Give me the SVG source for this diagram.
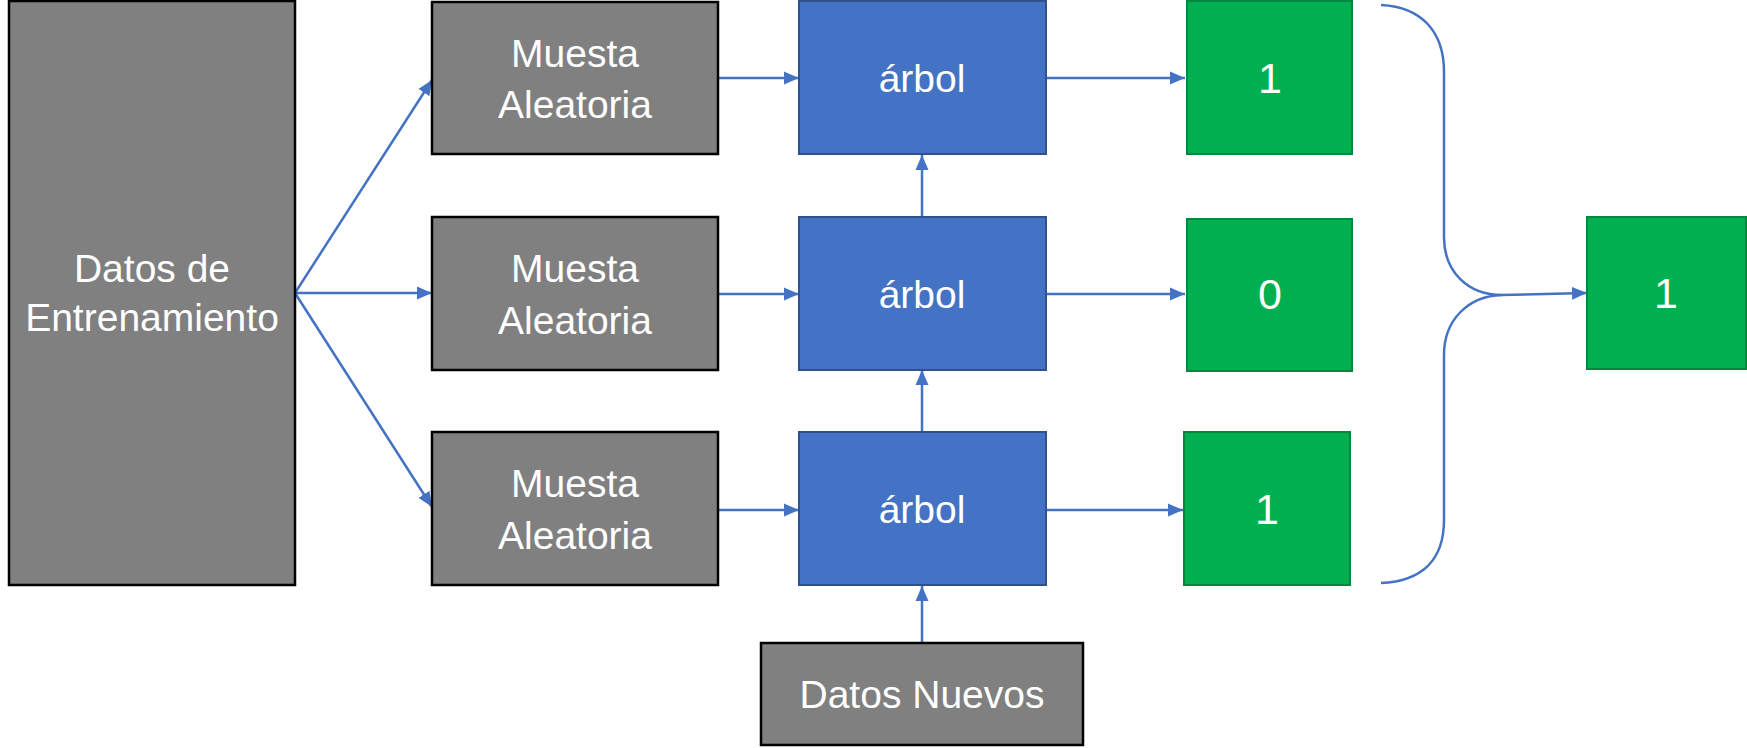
<svg xmlns="http://www.w3.org/2000/svg" width="1747" height="748" viewBox="0 0 1747 748">
<defs>
<style>
.gray{fill:#808080;stroke:#000;stroke-width:2.5}
.blue{fill:#4472C4;stroke:#2F528F;stroke-width:2}
.green{fill:#00B050;stroke:#00883E;stroke-width:2}
.t{fill:#fff;font-family:"Liberation Sans",Arial,sans-serif;font-size:39px;text-anchor:middle}
.d{font-size:43px}
.c{fill:none;stroke:#4472C4;stroke-width:2.5}
.a{marker-end:url(#ah)}
</style>
<marker id="ah" markerUnits="userSpaceOnUse" markerWidth="15" markerHeight="15" viewBox="0 0 15 15" refX="15" refY="7.5" orient="auto">
<path d="M0,1 L15,7.5 L0,14 Z" fill="#4472C4"/>
</marker>
</defs>
<rect width="1747" height="748" fill="#fff"/>
<g id="connectors">
<line class="c a" x1="295" y1="293" x2="432" y2="80"/>
<line class="c a" x1="295" y1="293" x2="432" y2="293"/>
<line class="c a" x1="295" y1="293" x2="432" y2="507"/>
<line class="c a" x1="718" y1="78" x2="799" y2="78"/>
<line class="c a" x1="718" y1="294" x2="799" y2="294"/>
<line class="c a" x1="718" y1="510" x2="799" y2="510"/>
<line class="c a" x1="1046" y1="78" x2="1185" y2="78"/>
<line class="c a" x1="1046" y1="294" x2="1185" y2="294"/>
<line class="c a" x1="1046" y1="510" x2="1183" y2="510"/>
<line class="c a" x1="922" y1="432" x2="922" y2="370"/>
<line class="c a" x1="922" y1="217" x2="922" y2="155"/>
<line class="c a" x1="922" y1="643" x2="922" y2="586"/>
<path class="c" d="M1381,5 C1422,7 1444,32 1444,72 L1444,237 C1444,272 1468,295 1502,295"/>
<path class="c" d="M1502,295 C1468,296 1444,320 1444,355 L1444,520 C1444,560 1422,581 1381,583"/>
<line class="c a" x1="1502" y1="295" x2="1587" y2="293"/>
</g>
<g id="datos-entrenamiento">
<rect class="gray" x="9" y="1" width="286" height="584"/>
<text class="t" x="152" y="282">Datos de</text>
<text class="t" x="152" y="331">Entrenamiento</text>
</g>
<g id="muestra-1">
<rect class="gray" x="432" y="2" width="286" height="152"/>
<text class="t" x="575" y="67">Muesta</text>
<text class="t" x="575" y="118">Aleatoria</text>
</g>
<g id="muestra-2">
<rect class="gray" x="432" y="217" width="286" height="153"/>
<text class="t" x="575" y="282">Muesta</text>
<text class="t" x="575" y="334">Aleatoria</text>
</g>
<g id="muestra-3">
<rect class="gray" x="432" y="432" width="286" height="153"/>
<text class="t" x="575" y="497">Muesta</text>
<text class="t" x="575" y="549">Aleatoria</text>
</g>
<g id="arbol-1">
<rect class="blue" x="799" y="1" width="247" height="153"/>
<text class="t" x="922" y="92">árbol</text>
</g>
<g id="arbol-2">
<rect class="blue" x="799" y="217" width="247" height="153"/>
<text class="t" x="922" y="308">árbol</text>
</g>
<g id="arbol-3">
<rect class="blue" x="799" y="432" width="247" height="153"/>
<text class="t" x="922" y="523">árbol</text>
</g>
<g id="datos-nuevos">
<rect class="gray" x="761" y="643" width="322" height="102"/>
<text class="t" x="922" y="708">Datos Nuevos</text>
</g>
<g id="resultado-1">
<rect class="green" x="1187" y="1" width="165" height="153"/>
<text class="t d" x="1270" y="93">1</text>
</g>
<g id="resultado-2">
<rect class="green" x="1187" y="219" width="165" height="152"/>
<text class="t d" x="1270" y="309">0</text>
</g>
<g id="resultado-3">
<rect class="green" x="1184" y="432" width="166" height="153"/>
<text class="t d" x="1267" y="524">1</text>
</g>
<g id="resultado-final">
<rect class="green" x="1587" y="217" width="159" height="152"/>
<text class="t d" x="1666" y="308">1</text>
</g>
</svg>
